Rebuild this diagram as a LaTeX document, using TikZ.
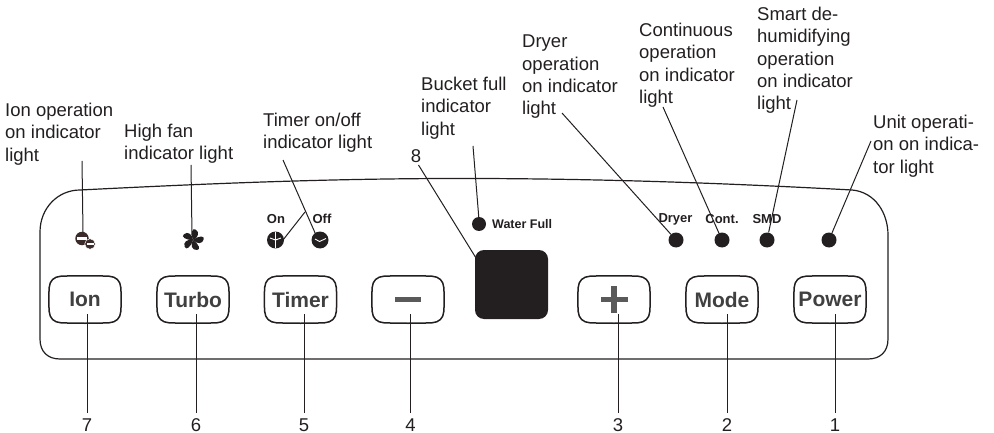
\documentclass[tikz,border=0pt]{standalone}
\usepackage{fontspec}
\setmainfont{Liberation Sans}
\definecolor{ink}{HTML}{231F20}
\definecolor{btxt}{HTML}{404040}
\definecolor{sign}{HTML}{5A5A5A}
\definecolor{ionc}{HTML}{3B2A2A}
\tikzset{
  lbl/.style={anchor=north west,align=left,inner sep=0pt,font=\fontsize{18.5}{22.3}\selectfont,text=ink},
  num/.style={inner sep=1pt,font=\fontsize{18.5}{20}\selectfont,text=ink},
  btn/.style={minimum width=72pt,minimum height=47pt,inner sep=0pt,font=\bfseries\fontsize{21}{22}\selectfont,text=btxt},
  dot/.style={circle,fill=ink,minimum size=15pt,inner sep=0pt},
  tiny/.style={inner sep=0pt,font=\bfseries\fontsize{13}{14}\selectfont,text=ink},
  lead/.style={draw=ink,line width=1pt},
}
\begin{document}
\begin{tikzpicture}[x=1pt,y=-1pt]
\useasboundingbox (0,0) rectangle (994,433);
% panel
\draw[ink,line width=1.2pt] (80,190) .. controls (200,184) and (330,178) .. (480,178.5)
  .. controls (620,179) and (740,184) .. (852,190)
  .. controls (875,192) and (888,213) .. (888,235)
  -- (888,339) .. controls (888,352) and (880,359) .. (868,359)
  -- (60,359) .. controls (48,359) and (40,352) .. (40,339)
  -- (40,232) .. controls (40,208) and (58,190) .. (80,190) -- cycle;
% buttons
\node[btn] (bion) at (85,299.5) {Ion};
\node[btn] (bturbo) at (193,299.5) {Turbo};
\node[btn] (btimer) at (300.5,299.5) {Timer};
\node[btn] (bminus) at (408,299.5) {};
\node[btn] (bplus) at (614,299.5) {};
\node[btn] (bmode) at (722,299.5) {Mode};
\node[btn] (bpower) at (830,299.5) {Power};
\foreach \b in {bion,bturbo,btimer,bminus,bplus,bmode,bpower}{
  \draw[ink,line width=1.5pt,shift={(\b.center)}]
    (-24,-23.3) .. controls (-8,-23.9) and (8,-23.9) .. (24,-23.3)
    .. controls (31,-22.8) and (35.3,-19) .. (35.8,-12)
    .. controls (36.3,-4) and (36.3,4) .. (35.8,12)
    .. controls (35.3,19) and (31,22.8) .. (24,23.3)
    .. controls (8,23.9) and (-8,23.9) .. (-24,23.3)
    .. controls (-31,22.8) and (-35.3,19) .. (-35.8,12)
    .. controls (-36.3,4) and (-36.3,-4) .. (-35.8,-12)
    .. controls (-35.3,-19) and (-31,-22.8) .. (-24,-23.3) -- cycle;
}
\fill[sign] (bminus.center) +(-13,-2.5) rectangle +(13,2.5);
\fill[sign] (bplus.center) +(-13.5,-2.5) rectangle +(13.5,2.5);
\fill[sign] (bplus.center) +(-2.8,-13.5) rectangle +(2.8,13.5);
% display
\node[fill=ink,rounded corners=9pt,minimum width=73pt,minimum height=69pt,inner sep=0pt] (disp) at (511.5,284.5) {};
% dots
\node[dot,minimum size=14pt] (dwater) at (479,224) {};
\node[dot] (ddryer) at (676,240) {};
\node[dot] (dcont) at (722,240) {};
\node[dot] (dsmd) at (767,240) {};
\node[dot] (dunit) at (829,240) {};
% small labels
\node[tiny,anchor=west,font=\bfseries\fontsize{12.5}{14}\selectfont] (twater) at (492,224) {Water Full};
\node[tiny] (tdryer) at (675.5,219.5) {Dryer};
\node[tiny] (tcont) at (722,219.5) {Cont.};
\node[tiny] (tsmd) at (767,219.5) {SMD};
\node[tiny] (ton) at (276,219) {On};
\node[tiny] (toff) at (322,219) {Off};
% icons
\node[circle,fill=ink,minimum size=17pt,inner sep=0pt] (clkon) at (275.5,240) {};
\draw[white,line width=.9pt] (275.5,232) -- (275.5,248) (275.5,240) -- (270,238) (275.5,240) -- (281,238);
\node[circle,fill=ink,minimum size=17pt,inner sep=0pt] (clkoff) at (320,240) {};
\draw[white,line width=.9pt] (315,239) -- (319.5,241.5) -- (326,238.5);
\node[circle,fill=ionc,minimum size=13.5pt,inner sep=0pt] (ionbig) at (82,238.5) {};
\node[circle,fill=ionc,draw=white,line width=.5pt,minimum size=10.5pt,inner sep=0pt] (ionsmall) at (90,244) {};
\fill[white] (77,237.3) rectangle (87,239.7);
\fill[white] (86.5,243) rectangle (93.5,245.2);
% fan
\coordinate (fan) at (193,240);
\foreach \a in {-18,54,126,198,270}{
  \fill[ink,rotate around={\a:(fan)}] (fan) .. controls (197,234) and (203,232) .. (203,236) .. controls (203.5,241) and (198,243) .. (fan) -- cycle;
}
% labels
\node[lbl] (lion) at (5,103) {Ion operation\\on indicator\\light};
\node[lbl] (lfan) at (124,124) {High fan\\indicator light};
\node[lbl] (ltimer) at (263,113) {Timer on/off\\indicator light};
\node[lbl] (lbucket) at (421,77) {Bucket full\\indicator\\light};
\node[lbl] (ldryer) at (522,35) {Dryer\\operation\\on indicator\\light};
\node[lbl] (lcont) at (639,23) {Continuous\\operation\\on indicator\\light};
\node[lbl] (lsmd) at (757,7) {Smart de-\\humidifying\\operation\\on indicator\\light};
\node[lbl] (lunit) at (873,115) {Unit operati-\\on on indica-\\tor light};
% numbers
\node[num] (n7) at (87,425) {7};
\node[num] (n6) at (196,425) {6};
\node[num] (n5) at (304,425) {5};
\node[num] (n4) at (410.5,425) {4};
\node[num] (n3) at (618,425) {3};
\node[num] (n2) at (727,425) {2};
\node[num] (n1) at (835,425) {1};
\node[num] (n8) at (416,156) {8};
% leader starts
\coordinate (s7) at (87,314);
\coordinate (s6) at (196,314);
\coordinate (s5) at (304,314);
\coordinate (s4) at (410.5,314);
\coordinate (s3) at (618,314);
\coordinate (s2) at (727,314);
\coordinate (s1) at (835,314);
\foreach \i in {1,...,7}{\draw[lead] (s\i) -- ([yshift=4pt]n\i.north);}
\coordinate (cion) at (82,161);
\coordinate (cionE) at (83,232);
\coordinate (cfan) at (191,165);
\coordinate (cfanE) at (192,235);
\coordinate (ctim) at (283,160);
\coordinate (ctimE) at (316,235);
\coordinate (cfork) at (305,212);
\coordinate (conE) at (283,240);
\coordinate (cbuck) at (473,146);
\coordinate (cbuckE) at (479,220);
\coordinate (c8S) at (418.5,165);
\coordinate (c8E) at (476,258);
\coordinate (cdry) at (562,113);
\coordinate (ccont) at (663,107);
\coordinate (csmd) at (797,100);
\coordinate (cunit) at (871,141);
\draw[lead] (cion) -- (cionE);
\draw[lead] (cfan) -- (cfanE);
\draw[lead] (ctim) -- (ctimE);
\draw[lead] (cfork) -- (conE);
\draw[lead] (cbuck) -- (cbuckE);
\draw[lead] (c8S) -- (c8E);
\draw[lead] (cdry) -- (ddryer);
\draw[lead] (ccont) -- (dcont);
\draw[lead] (csmd) -- (dsmd);
\draw[lead] (cunit) -- (dunit);
\end{tikzpicture}
\end{document}
